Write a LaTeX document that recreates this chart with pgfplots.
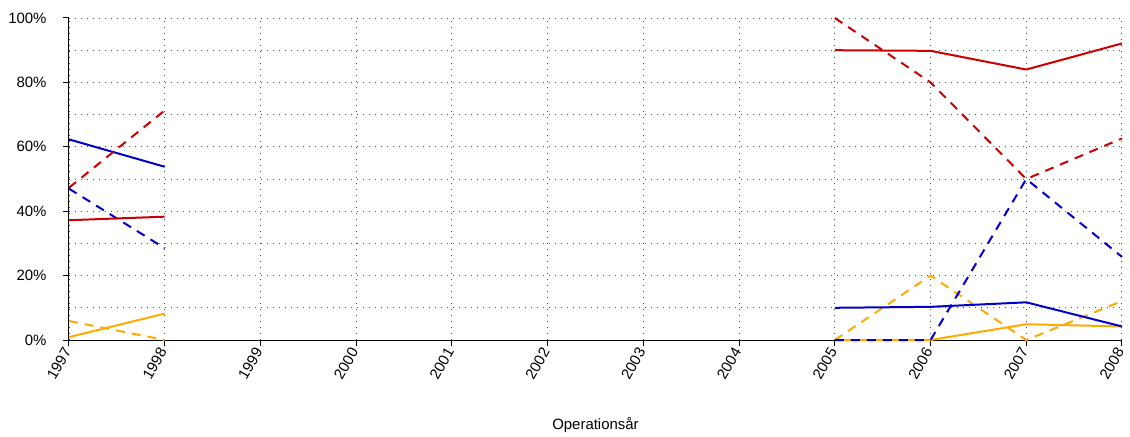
\documentclass[border=0pt]{standalone}
\usepackage{pgfplots}
\pgfplotsset{compat=1.18}
\usepackage{fontspec}
\setmainfont{Liberation Sans}
\definecolor{cred}{RGB}{204,0,0}
\definecolor{cblue}{RGB}{0,0,204}
\definecolor{corange}{RGB}{255,170,0}
\begin{document}
\begin{tikzpicture}
\begin{axis}[name=ax, scale only axis, width=1053bp, height=322bp,
  xmin=1997, xmax=2008, ymin=0, ymax=100,
  axis x line*=bottom, axis y line*=left,
  axis line style={line width=1bp, black},
  xtick={1997,...,2008}, ytick={0,20,...,100}, minor ytick={10,30,...,90},
  xticklabel={\pgfmathprintnumber[assume math mode=true,1000 sep={},fixed]{\tick}},
  yticklabel={\pgfmathprintnumber[assume math mode=true]{\tick}\%},
  xticklabel style={rotate=60, anchor=east},
  yticklabel style={xshift=-13bp},
  tick align=outside, major tick length=6bp, minor tick length=0bp,
  tick style={black, line width=1bp},
  grid=both,
  major grid style={black!70, line width=0.8bp, dash pattern=on 1bp off 5bp},
  minor grid style={black!70, line width=0.8bp, dash pattern=on 1bp off 5bp},
  font=\fontsize{15}{18}\selectfont,
  xlabel={Operationsår},
  xlabel style={at={(axis description cs:0.5,0)}, anchor=center, yshift=-85bp},
  unbounded coords=jump, clip=false,
  every axis plot/.append style={line width=2bp, line join=round},
]
\addplot[corange] coordinates {(1997,0.9) (1998,8.2) (1999,nan) (2005,0) (2006,0) (2007,4.9) (2008,4.2)};
\addplot[corange, dash pattern=on 9bp off 7bp] coordinates {(1997,5.9) (1998,0) (1999,nan) (2005,0) (2006,20) (2007,0) (2008,12.1)};
\addplot[cblue] coordinates {(1997,62.3) (1998,53.8) (1999,nan) (2005,10) (2006,10.3) (2007,11.7) (2008,4.2)};
\addplot[cblue, dash pattern=on 9bp off 7bp] coordinates {(1997,47) (1998,28.5) (1999,nan) (2005,0) (2006,0) (2007,50) (2008,25.8)};
\addplot[cred] coordinates {(1997,37.2) (1998,38.3) (1999,nan) (2005,90) (2006,89.8) (2007,84) (2008,92.1)};
\addplot[cred, dash pattern=on 9bp off 7bp] coordinates {(1997,47.3) (1998,71.3) (1999,nan) (2005,100) (2006,80) (2007,50) (2008,62.6)};
\end{axis}
\pgfresetboundingbox
\path[use as bounding box] ([shift={(-69bp,-97bp)}]ax.south west) rectangle ([shift={(8bp,18bp)}]ax.north east);
\end{tikzpicture}
\end{document}
